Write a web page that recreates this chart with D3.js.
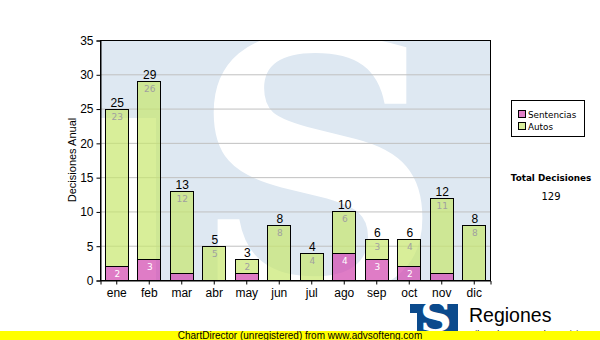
<!DOCTYPE html>
<html>
<head>
<meta charset="utf-8">
<script src="https://cdn.jsdelivr.net/npm/d3@7/dist/d3.min.js"></script>
<style>
  html, body { margin: 0; padding: 0; background: #fff; }
  svg { display: block; }
</style>
</head>
<body>
<svg id="chart" width="600" height="340"></svg>
<script>
// Monthly decisions, stacked by type
const months = ["ene", "feb", "mar", "abr", "may", "jun", "jul", "ago", "sep", "oct", "nov", "dic"];
const sentencias = [2, 3, 1, 0, 1, 0, 0, 4, 3, 2, 1, 0];
const autos = [23, 26, 12, 5, 2, 8, 4, 6, 3, 4, 11, 8];
const yTicks = [0, 5, 10, 15, 20, 25, 30, 35];
const seriesNames = ["Sentencias", "Autos"];
const seriesColors = ["rgba(211,74,176,0.72)", "rgba(199,231,109,0.7)"];
const legendSwatch = ["#e080c8", "#d8ee9c"];

const svg = d3.select("#chart");
const W = 600, H = 340;
const plot = { left: 100, right: 490, top: 40, bottom: 280 };

const x = d3.scaleBand().domain(months)
  .range([plot.left, plot.right]).paddingInner(0.28).paddingOuter(0.14);
const y = d3.scaleLinear().domain([0, 35]).range([plot.bottom, plot.top]);

svg.append("rect").attr("width", W).attr("height", H).attr("fill", "#fff");

// Logo: blue block with a white notch and a white "S"
function drawLogo(g, x0, y0, w, h, blue, notchW, notchTop, sSize, sx, sy, sScaleX) {
  g.append("rect").attr("x", x0).attr("y", y0).attr("width", w).attr("height", h).attr("fill", blue);
  g.append("rect").attr("x", x0).attr("y", y0 + notchTop).attr("width", notchW).attr("height", h - notchTop).attr("fill", "#fff");
  g.append("text")
    .attr("transform", `translate(${sx},${sy}) scale(${sScaleX},1)`)
    .attr("text-anchor", "middle")
    .attr("font-family", "DejaVu Serif")
    .attr("font-weight", "bold")
    .attr("font-size", sSize)
    .attr("fill", "#fff")
    .text("S");
}

// Plot background watermark
const clip = svg.append("clipPath").attr("id", "plotclip");
clip.append("rect").attr("x", plot.left).attr("y", plot.top)
  .attr("width", plot.right - plot.left).attr("height", plot.bottom - plot.top);
const wm = svg.append("g").attr("clip-path", "url(#plotclip)");
drawLogo(wm, plot.left, plot.top, plot.right - plot.left, plot.bottom - plot.top,
  "#dee8f2", 56, 78, 350, 317, 292, 1.0);

// Grid lines
svg.append("g").selectAll("line").data(yTicks.filter(t => t > 0 && t < 35)).join("line")
  .attr("x1", plot.left).attr("x2", plot.right)
  .attr("y1", d => y(d) + 0.5).attr("y2", d => y(d) + 0.5)
  .attr("stroke", "#c0c0c0").attr("stroke-width", 1);

// Stacked bars
const rows = months.map((m, i) => ({ m, s: sentencias[i], a: autos[i], t: sentencias[i] + autos[i] }));
const segs = [];
rows.forEach(r => {
  if (r.s > 0) segs.push({ m: r.m, k: 0, y0: 0, y1: r.s, v: r.s });
  if (r.a > 0) segs.push({ m: r.m, k: 1, y0: r.s, y1: r.s + r.a, v: r.a });
});
const bw = x.bandwidth();
svg.append("g").selectAll("rect").data(segs).join("rect")
  .attr("x", d => Math.round(x(d.m)) + 0.5)
  .attr("y", d => Math.round(y(d.y1)) + 0.5)
  .attr("width", Math.round(bw))
  .attr("height", d => Math.round(y(d.y0)) - Math.round(y(d.y1)))
  .attr("fill", d => seriesColors[d.k])
  .attr("stroke", "#000").attr("stroke-width", 1);

// Segment value labels
svg.append("g").selectAll("text").data(segs.filter(d => y(d.y0) - y(d.y1) > 10)).join("text")
  .attr("x", d => x(d.m) + bw / 2 + 1)
  .attr("y", d => y(d.y1) + 11)
  .attr("text-anchor", "middle")
  .attr("font-family", "DejaVu Sans")
  .attr("font-size", 9)
  .attr("fill", d => d.k === 0 ? "#ffffff" : "#a0a0a0")
  .text(d => d.v);

// Totals above bars
svg.append("g").selectAll("text").data(rows).join("text")
  .attr("x", d => x(d.m) + bw / 2 + 1)
  .attr("y", d => y(d.t) - 2)
  .attr("text-anchor", "middle")
  .attr("font-family", "Liberation Sans, Arial, sans-serif")
  .attr("font-size", 12)
  .attr("fill", "#000")
  .text(d => d.t);

// Frame
svg.append("rect").attr("x", plot.left + 0.5).attr("y", plot.top + 0.5)
  .attr("width", plot.right - plot.left).attr("height", plot.bottom - plot.top)
  .attr("fill", "none").attr("stroke", "#000");

// Axes
const yAxis = svg.append("g").attr("transform", `translate(${plot.left + 0.5},0.5)`)
  .call(d3.axisLeft(y).tickValues(yTicks).tickSize(4).tickPadding(3));
const xAxis = svg.append("g").attr("transform", `translate(0.5,${plot.bottom + 0.5})`)
  .call(d3.axisBottom(x).tickSize(4).tickPadding(4));
[yAxis, xAxis].forEach(a => {
  a.select(".domain").attr("stroke", "#000");
  a.selectAll(".tick line").attr("stroke", "#000");
  a.selectAll(".tick text").attr("font-family", "Liberation Sans, Arial, sans-serif")
    .attr("font-size", 12).attr("fill", "#000");
});

// Y axis title
svg.append("text")
  .attr("transform", "translate(76,160) rotate(-90)")
  .attr("text-anchor", "middle")
  .attr("font-family", "Liberation Sans, Arial, sans-serif")
  .attr("font-size", 11)
  .attr("fill", "#000")
  .text("Decisiones Anual");

// Legend
const lg = svg.append("g");
lg.append("rect").attr("x", 511.5).attr("y", 100.5).attr("width", 73).attr("height", 36)
  .attr("fill", "#fff").attr("stroke", "#000");
seriesNames.forEach((n, i) => {
  lg.append("rect").attr("x", 518.5).attr("y", 110.5 + i * 12).attr("width", 7).attr("height", 7)
    .attr("fill", legendSwatch[i]).attr("stroke", "#000");
  lg.append("text").attr("x", 528).attr("y", 118 + i * 12)
    .attr("font-family", "DejaVu Sans").attr("font-size", 8.8).attr("fill", "#000").text(n);
});

// Total
const total = d3.sum(sentencias) + d3.sum(autos);
svg.append("text").attr("x", 551).attr("y", 181).attr("text-anchor", "middle")
  .attr("font-family", "DejaVu Sans").attr("font-weight", "bold").attr("font-size", 8.8)
  .attr("fill", "#000").text("Total Decisiones");
svg.append("text").attr("x", 551).attr("y", 200).attr("text-anchor", "middle")
  .attr("font-family", "DejaVu Sans").attr("font-size", 10)
  .attr("fill", "#000").text(total);

// Brand block
const brand = svg.append("g");
drawLogo(brand, 410, 304, 48, 30, "#0b4a8c", 7, 9, 40, 436, 331, 1.1);
brand.append("text").attr("x", 469).attr("y", 322)
  .attr("font-family", "Liberation Sans, Arial, sans-serif").attr("font-size", 19.5)
  .attr("fill", "#000").text("Regiones");
brand.append("text").attr("x", 467).attr("y", 337)
  .attr("font-family", "Liberation Sans, Arial, sans-serif").attr("font-size", 9)
  .attr("fill", "#000").text("Tribunal Supremo de Justicia");

// Footer band
svg.append("rect").attr("x", 0).attr("y", 331).attr("width", W).attr("height", 9).attr("fill", "#ffff00");
svg.append("text").attr("x", 300).attr("y", 339).attr("text-anchor", "middle")
  .attr("font-family", "Liberation Sans, Arial, sans-serif").attr("font-size", 10)
  .attr("fill", "#000").text("ChartDirector (unregistered) from www.advsofteng.com");
</script>
</body>
</html>
